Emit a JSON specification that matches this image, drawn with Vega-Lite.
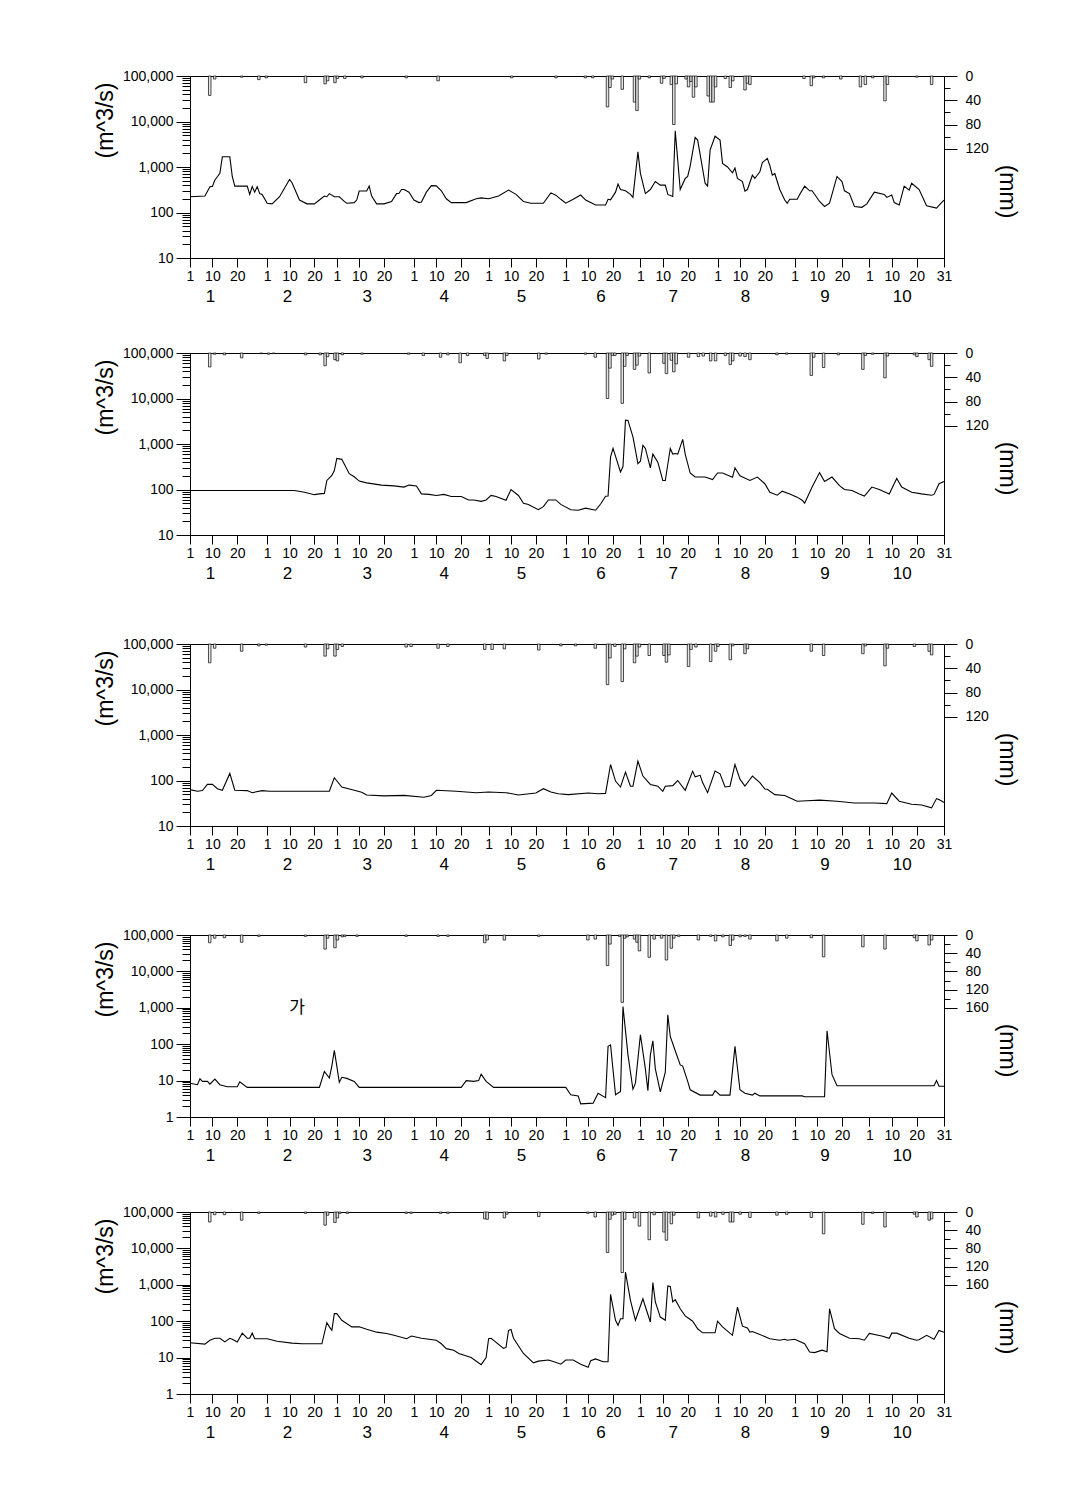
{
"$schema": "https://vega.github.io/schema/vega-lite/v6.json",
"padding": {"left": 93, "top": 68, "right": 5, "bottom": 5},
"spacing": 54,
"config": {
 "view": {"stroke": "#000", "strokeWidth": 1},
 "concat": {"spacing": 54},
 "axis": {"labelFont": "Liberation Sans", "titleFont": "Liberation Sans", "labelColor": "#000", "titleColor": "#000", "domainColor": "#000", "tickColor": "#000", "grid": false, "titleFontWeight": "normal", "labelFontSize": 14, "titleFontSize": 23, "labelOverlap": false, "labelBound": false, "labelFlush": false}
},
"datasets": {
 "months": [{"m":1,"p":9},{"m":2,"p":40},{"m":3,"p":72},{"m":4,"p":103},{"m":5,"p":134},{"m":6,"p":166},{"m":7,"p":195},{"m":8,"p":224},{"m":9,"p":256},{"m":10,"p":287}],
 "q1": [{"d":1,"q":222},{"d":7,"q":230},{"d":9,"q":368},{"d":10,"q":375},{"d":11,"q":517},{"d":12,"q":611},{"d":13,"q":724},{"d":14,"q":1675},{"d":17,"q":1675},{"d":18,"q":611},{"d":19,"q":380},{"d":24,"q":380},{"d":25,"q":250},{"d":26,"q":370},{"d":27,"q":280},{"d":28,"q":370},{"d":29,"q":260},{"d":30,"q":250},{"d":32,"q":160},{"d":34,"q":155},{"d":37,"q":222},{"d":41,"q":534},{"d":42,"q":450},{"d":45,"q":188},{"d":48,"q":155},{"d":51,"q":155},{"d":53,"q":188},{"d":55,"q":230},{"d":56,"q":222},{"d":57,"q":260},{"d":59,"q":222},{"d":61,"q":222},{"d":63,"q":175},{"d":64,"q":160},{"d":67,"q":165},{"d":68,"q":188},{"d":69,"q":296},{"d":72,"q":296},{"d":73,"q":380},{"d":74,"q":230},{"d":76,"q":155},{"d":79,"q":155},{"d":82,"q":175},{"d":84,"q":260},{"d":85,"q":265},{"d":86,"q":320},{"d":87,"q":320},{"d":89,"q":280},{"d":91,"q":188},{"d":93,"q":165},{"d":94,"q":170},{"d":96,"q":280},{"d":98,"q":390},{"d":100,"q":385},{"d":102,"q":300},{"d":104,"q":200},{"d":106,"q":165},{"d":112,"q":165},{"d":116,"q":200},{"d":118,"q":210},{"d":121,"q":200},{"d":125,"q":230},{"d":129,"q":310},{"d":132,"q":250},{"d":135,"q":175},{"d":138,"q":160},{"d":143,"q":160},{"d":146,"q":270},{"d":148,"q":240},{"d":150,"q":195},{"d":152,"q":160},{"d":155,"q":195},{"d":158,"q":242},{"d":160,"q":188},{"d":164,"q":146},{"d":168,"q":146},{"d":169,"q":195},{"d":170,"q":190},{"d":172,"q":280},{"d":173,"q":422},{"d":174,"q":320},{"d":176,"q":300},{"d":178,"q":250},{"d":179,"q":215},{"d":181,"q":2150},{"d":182,"q":724},{"d":184,"q":260},{"d":186,"q":320},{"d":188,"q":480},{"d":190,"q":400},{"d":192,"q":400},{"d":193,"q":250},{"d":195,"q":225},{"d":196,"q":6220},{"d":198,"q":320},{"d":200,"q":560},{"d":201,"q":620},{"d":202,"q":1050},{"d":204,"q":4450},{"d":205,"q":3900},{"d":208,"q":440},{"d":209,"q":380},{"d":210,"q":2350},{"d":212,"q":4750},{"d":214,"q":3900},{"d":215,"q":1200},{"d":217,"q":1000},{"d":219,"q":746},{"d":220,"q":950},{"d":221,"q":560},{"d":223,"q":480},{"d":224,"q":296},{"d":225,"q":320},{"d":227,"q":660},{"d":228,"q":560},{"d":230,"q":785},{"d":231,"q":1250},{"d":233,"q":1550},{"d":234,"q":1080},{"d":235,"q":660},{"d":236,"q":720},{"d":238,"q":320},{"d":240,"q":188},{"d":241,"q":160},{"d":242,"q":195},{"d":245,"q":195},{"d":246,"q":250},{"d":248,"q":380},{"d":250,"q":300},{"d":251,"q":300},{"d":254,"q":175},{"d":256,"q":136},{"d":258,"q":160},{"d":261,"q":620},{"d":263,"q":480},{"d":264,"q":300},{"d":266,"q":260},{"d":268,"q":136},{"d":271,"q":130},{"d":273,"q":155},{"d":276,"q":280},{"d":280,"q":250},{"d":281,"q":215},{"d":283,"q":242},{"d":284,"q":165},{"d":286,"q":146},{"d":288,"q":380},{"d":290,"q":310},{"d":291,"q":440},{"d":294,"q":320},{"d":297,"q":140},{"d":301,"q":125},{"d":303,"q":165},{"d":304,"q":188}],
 "r1": [{"d":7,"r":32},{"d":9,"r":5},{"d":20,"r":2},{"d":27,"r":6},{"d":30,"r":3},{"d":46,"r":11},{"d":54,"r":13},{"d":55,"r":8},{"d":58,"r":11},{"d":59,"r":4},{"d":62,"r":4},{"d":69,"r":3},{"d":87,"r":3},{"d":100,"r":8},{"d":130,"r":3},{"d":148,"r":3},{"d":160,"r":3},{"d":163,"r":3},{"d":169,"r":51},{"d":170,"r":19},{"d":171,"r":5},{"d":175,"r":22},{"d":180,"r":43},{"d":181,"r":57},{"d":182,"r":5},{"d":186,"r":3},{"d":191,"r":12},{"d":192,"r":4},{"d":195,"r":14},{"d":196,"r":80},{"d":197,"r":13},{"d":201,"r":5},{"d":202,"r":18},{"d":203,"r":9},{"d":204,"r":35},{"d":205,"r":18},{"d":210,"r":33},{"d":211,"r":43},{"d":212,"r":43},{"d":213,"r":18},{"d":217,"r":4},{"d":219,"r":19},{"d":220,"r":8},{"d":225,"r":23},{"d":226,"r":12},{"d":227,"r":14},{"d":249,"r":4},{"d":252,"r":16},{"d":253,"r":3},{"d":257,"r":3},{"d":264,"r":5},{"d":272,"r":18},{"d":274,"r":14},{"d":277,"r":3},{"d":282,"r":41},{"d":283,"r":14},{"d":295,"r":2},{"d":301,"r":14}],
 "q2": [{"d":1,"q":95},{"d":43,"q":95},{"d":47,"q":87},{"d":51,"q":77},{"d":53,"q":80},{"d":55,"q":82},{"d":56,"q":158},{"d":58,"q":203},{"d":59,"q":260},{"d":60,"q":480},{"d":62,"q":460},{"d":65,"q":223},{"d":67,"q":190},{"d":69,"q":153},{"d":72,"q":140},{"d":78,"q":125},{"d":83,"q":120},{"d":87,"q":113},{"d":89,"q":125},{"d":92,"q":120},{"d":94,"q":80},{"d":97,"q":78},{"d":100,"q":74},{"d":103,"q":78},{"d":106,"q":70},{"d":110,"q":70},{"d":113,"q":59},{"d":115,"q":59},{"d":118,"q":55},{"d":120,"q":59},{"d":122,"q":74},{"d":124,"q":70},{"d":128,"q":58},{"d":130,"q":100},{"d":133,"q":74},{"d":135,"q":50},{"d":137,"q":47},{"d":141,"q":36},{"d":143,"q":42},{"d":145,"q":59},{"d":148,"q":59},{"d":150,"q":47},{"d":154,"q":36},{"d":157,"q":35},{"d":160,"q":39},{"d":164,"q":35},{"d":166,"q":48},{"d":168,"q":71},{"d":169,"q":72},{"d":170,"q":520},{"d":171,"q":800},{"d":174,"q":242},{"d":175,"q":320},{"d":176,"q":3350},{"d":177,"q":3300},{"d":179,"q":1435},{"d":181,"q":370},{"d":182,"q":420},{"d":183,"q":935},{"d":184,"q":800},{"d":186,"q":300},{"d":187,"q":600},{"d":189,"q":400},{"d":191,"q":158},{"d":192,"q":158},{"d":194,"q":800},{"d":195,"q":600},{"d":196,"q":620},{"d":197,"q":600},{"d":199,"q":1260},{"d":200,"q":600},{"d":202,"q":230},{"d":204,"q":188},{"d":208,"q":188},{"d":211,"q":165},{"d":213,"q":230},{"d":215,"q":230},{"d":219,"q":185},{"d":220,"q":300},{"d":222,"q":200},{"d":226,"q":158},{"d":229,"q":188},{"d":232,"q":134},{"d":234,"q":87},{"d":237,"q":75},{"d":239,"q":92},{"d":242,"q":80},{"d":245,"q":68},{"d":247,"q":58},{"d":248,"q":50},{"d":251,"q":113},{"d":254,"q":235},{"d":256,"q":150},{"d":259,"q":188},{"d":262,"q":122},{"d":264,"q":100},{"d":267,"q":95},{"d":270,"q":80},{"d":272,"q":72},{"d":275,"q":113},{"d":278,"q":100},{"d":282,"q":80},{"d":285,"q":175},{"d":287,"q":113},{"d":291,"q":87},{"d":295,"q":80},{"d":299,"q":75},{"d":300,"q":78},{"d":302,"q":134},{"d":304,"q":150}],
 "r2": [{"d":7,"r":23},{"d":9,"r":2},{"d":13,"r":3},{"d":20,"r":8},{"d":28,"r":1},{"d":31,"r":2},{"d":33,"r":1},{"d":46,"r":3},{"d":52,"r":3},{"d":54,"r":21},{"d":55,"r":6},{"d":58,"r":11},{"d":59,"r":13},{"d":61,"r":3},{"d":69,"r":2},{"d":88,"r":2},{"d":94,"r":4},{"d":101,"r":7},{"d":104,"r":3},{"d":109,"r":16},{"d":112,"r":4},{"d":119,"r":4},{"d":120,"r":9},{"d":127,"r":13},{"d":128,"r":4},{"d":141,"r":10},{"d":144,"r":2},{"d":160,"r":2},{"d":164,"r":7},{"d":169,"r":75},{"d":170,"r":25},{"d":171,"r":4},{"d":172,"r":4},{"d":175,"r":83},{"d":176,"r":22},{"d":177,"r":4},{"d":180,"r":27},{"d":181,"r":20},{"d":182,"r":5},{"d":186,"r":33},{"d":192,"r":17},{"d":193,"r":34},{"d":195,"r":12},{"d":196,"r":31},{"d":197,"r":18},{"d":202,"r":7},{"d":206,"r":6},{"d":208,"r":5},{"d":211,"r":13},{"d":213,"r":13},{"d":217,"r":4},{"d":219,"r":19},{"d":220,"r":13},{"d":223,"r":5},{"d":225,"r":6},{"d":227,"r":11},{"d":238,"r":3},{"d":242,"r":2},{"d":252,"r":37},{"d":253,"r":7},{"d":257,"r":24},{"d":263,"r":3},{"d":273,"r":27},{"d":274,"r":4},{"d":277,"r":2},{"d":282,"r":41},{"d":283,"r":5},{"d":294,"r":3},{"d":295,"r":6},{"d":300,"r":11},{"d":301,"r":22}],
 "q3": [{"d":1,"q":63},{"d":4,"q":58},{"d":6,"q":60},{"d":8,"q":82},{"d":10,"q":82},{"d":12,"q":66},{"d":14,"q":61},{"d":17,"q":143},{"d":19,"q":61},{"d":24,"q":60},{"d":26,"q":54},{"d":30,"q":60},{"d":33,"q":58},{"d":57,"q":58},{"d":59,"q":115},{"d":62,"q":72},{"d":67,"q":61},{"d":70,"q":55},{"d":72,"q":48},{"d":79,"q":46},{"d":87,"q":47},{"d":95,"q":43},{"d":98,"q":47},{"d":100,"q":61},{"d":108,"q":58},{"d":116,"q":54},{"d":121,"q":56},{"d":128,"q":54},{"d":133,"q":48},{"d":140,"q":53},{"d":143,"q":66},{"d":146,"q":56},{"d":149,"q":51},{"d":153,"q":49},{"d":161,"q":53},{"d":165,"q":51},{"d":168,"q":52},{"d":170,"q":225},{"d":172,"q":97},{"d":174,"q":72},{"d":176,"q":153},{"d":178,"q":75},{"d":179,"q":75},{"d":181,"q":267},{"d":183,"q":125},{"d":186,"q":82},{"d":189,"q":75},{"d":191,"q":58},{"d":192,"q":75},{"d":195,"q":77},{"d":197,"q":100},{"d":200,"q":61},{"d":203,"q":161},{"d":204,"q":120},{"d":206,"q":130},{"d":207,"q":90},{"d":209,"q":54},{"d":212,"q":161},{"d":214,"q":140},{"d":216,"q":72},{"d":218,"q":75},{"d":220,"q":225},{"d":222,"q":107},{"d":224,"q":75},{"d":226,"q":105},{"d":227,"q":125},{"d":230,"q":90},{"d":232,"q":65},{"d":233,"q":64},{"d":236,"q":49},{"d":240,"q":47},{"d":245,"q":35},{"d":249,"q":36},{"d":254,"q":37},{"d":261,"q":35},{"d":268,"q":32},{"d":276,"q":32},{"d":281,"q":31},{"d":283,"q":53},{"d":286,"q":35},{"d":291,"q":30},{"d":295,"q":29},{"d":299,"q":25},{"d":301,"q":40},{"d":302,"q":38},{"d":304,"q":33}],
 "r3": [{"d":7,"r":31},{"d":9,"r":7},{"d":20,"r":12},{"d":27,"r":3},{"d":30,"r":2},{"d":46,"r":5},{"d":54,"r":20},{"d":55,"r":8},{"d":58,"r":20},{"d":59,"r":9},{"d":61,"r":4},{"d":87,"r":5},{"d":89,"r":4},{"d":100,"r":7},{"d":104,"r":4},{"d":119,"r":9},{"d":122,"r":9},{"d":127,"r":8},{"d":141,"r":10},{"d":150,"r":3},{"d":156,"r":3},{"d":164,"r":7},{"d":169,"r":67},{"d":170,"r":23},{"d":172,"r":4},{"d":175,"r":62},{"d":176,"r":8},{"d":180,"r":31},{"d":181,"r":20},{"d":182,"r":5},{"d":186,"r":19},{"d":192,"r":19},{"d":193,"r":30},{"d":194,"r":18},{"d":202,"r":37},{"d":203,"r":9},{"d":205,"r":5},{"d":211,"r":29},{"d":213,"r":12},{"d":214,"r":4},{"d":219,"r":26},{"d":220,"r":3},{"d":225,"r":16},{"d":226,"r":8},{"d":252,"r":12},{"d":257,"r":19},{"d":273,"r":16},{"d":274,"r":3},{"d":282,"r":36},{"d":283,"r":7},{"d":294,"r":4},{"d":300,"r":12},{"d":301,"r":18}],
 "q4": [{"d":1,"q":8.5},{"d":4,"q":7.7},{"d":5,"q":11.2},{"d":6,"q":9.5},{"d":8,"q":9.5},{"d":9,"q":8},{"d":11,"q":11},{"d":13,"q":7.7},{"d":16,"q":6.8},{"d":20,"q":6.8},{"d":21,"q":9.2},{"d":24,"q":6.5},{"d":53,"q":6.5},{"d":55,"q":17.8},{"d":57,"q":11.8},{"d":58,"q":25},{"d":59,"q":68},{"d":60,"q":25},{"d":61,"q":9},{"d":62,"q":12.3},{"d":64,"q":11.5},{"d":67,"q":9.5},{"d":69,"q":6.5},{"d":110,"q":6.5},{"d":112,"q":10},{"d":115,"q":9.5},{"d":117,"q":10},{"d":118,"q":15},{"d":120,"q":9.5},{"d":123,"q":6.5},{"d":152,"q":6.5},{"d":154,"q":4.1},{"d":157,"q":3.8},{"d":158,"q":2.3},{"d":163,"q":2.4},{"d":165,"q":4.5},{"d":168,"q":3.4},{"d":169,"q":87},{"d":170,"q":96},{"d":172,"q":4.1},{"d":174,"q":5},{"d":175,"q":1080},{"d":177,"q":51},{"d":179,"q":5.8},{"d":180,"q":8.5},{"d":182,"q":182},{"d":184,"q":21},{"d":185,"q":5.3},{"d":186,"q":51},{"d":187,"q":124},{"d":188,"q":21},{"d":190,"q":4.9},{"d":192,"q":17},{"d":193,"q":640},{"d":194,"q":163},{"d":196,"q":66},{"d":198,"q":27},{"d":199,"q":25},{"d":201,"q":9.5},{"d":202,"q":5.6},{"d":206,"q":4},{"d":211,"q":4},{"d":212,"q":5.3},{"d":214,"q":4},{"d":218,"q":4},{"d":220,"q":87},{"d":222,"q":5.6},{"d":224,"q":4.5},{"d":227,"q":4},{"d":228,"q":4.5},{"d":230,"q":3.8},{"d":247,"q":3.8},{"d":248,"q":3.6},{"d":256,"q":3.6},{"d":257,"q":235},{"d":259,"q":14.5},{"d":261,"q":7.2},{"d":300,"q":7.2},{"d":301,"q":10},{"d":302,"q":7},{"d":304,"q":7}],
 "r4": [{"d":7,"r":17},{"d":9,"r":7},{"d":13,"r":6},{"d":20,"r":16},{"d":27,"r":3},{"d":46,"r":3},{"d":54,"r":31},{"d":55,"r":7},{"d":58,"r":28},{"d":59,"r":11},{"d":61,"r":4},{"d":62,"r":3},{"d":67,"r":3},{"d":87,"r":3},{"d":100,"r":3},{"d":104,"r":3},{"d":119,"r":17},{"d":120,"r":11},{"d":127,"r":11},{"d":141,"r":3},{"d":161,"r":11},{"d":164,"r":9},{"d":169,"r":67},{"d":170,"r":20},{"d":174,"r":3},{"d":175,"r":148},{"d":176,"r":7},{"d":177,"r":4},{"d":180,"r":9},{"d":181,"r":16},{"d":182,"r":35},{"d":186,"r":49},{"d":188,"r":9},{"d":191,"r":7},{"d":193,"r":55},{"d":195,"r":29},{"d":196,"r":7},{"d":198,"r":3},{"d":206,"r":11},{"d":211,"r":3},{"d":213,"r":13},{"d":216,"r":4},{"d":219,"r":23},{"d":220,"r":11},{"d":223,"r":4},{"d":225,"r":3},{"d":227,"r":9},{"d":238,"r":13},{"d":242,"r":7},{"d":252,"r":6},{"d":257,"r":48},{"d":273,"r":26},{"d":282,"r":31},{"d":294,"r":6},{"d":295,"r":13},{"d":300,"r":22},{"d":301,"r":11}],
 "q5": [{"d":1,"q":25.7},{"d":7,"q":23.5},{"d":9,"q":30},{"d":11,"q":34},{"d":13,"q":34},{"d":15,"q":27},{"d":17,"q":34},{"d":18,"q":32},{"d":20,"q":27},{"d":22,"q":47},{"d":24,"q":34},{"d":25,"q":34},{"d":26,"q":47},{"d":27,"q":33},{"d":32,"q":33},{"d":36,"q":28},{"d":42,"q":25},{"d":46,"q":24},{"d":54,"q":24},{"d":56,"q":91},{"d":57,"q":70},{"d":58,"q":56},{"d":59,"q":161},{"d":60,"q":161},{"d":62,"q":106},{"d":66,"q":70},{"d":69,"q":70},{"d":72,"q":60},{"d":76,"q":50},{"d":80,"q":46},{"d":83,"q":41},{"d":88,"q":33},{"d":90,"q":39},{"d":94,"q":34},{"d":100,"q":30},{"d":102,"q":24},{"d":104,"q":17.6},{"d":107,"q":16},{"d":109,"q":13},{"d":114,"q":10},{"d":118,"q":6.4},{"d":120,"q":10},{"d":121,"q":33},{"d":122,"q":34},{"d":127,"q":18},{"d":128,"q":19},{"d":129,"q":56},{"d":130,"q":59},{"d":131,"q":34},{"d":135,"q":13},{"d":139,"q":7.2},{"d":141,"q":8},{"d":145,"q":8.6},{"d":147,"q":7.8},{"d":150,"q":6.6},{"d":152,"q":8.6},{"d":155,"q":8.6},{"d":158,"q":6.6},{"d":161,"q":5.4},{"d":162,"q":8.2},{"d":164,"q":9.2},{"d":167,"q":7.7},{"d":169,"q":7.7},{"d":170,"q":547},{"d":172,"q":106},{"d":173,"q":77},{"d":174,"q":117},{"d":175,"q":117},{"d":176,"q":2240},{"d":178,"q":375},{"d":180,"q":106},{"d":183,"q":415},{"d":184,"q":250},{"d":186,"q":95},{"d":187,"q":1150},{"d":188,"q":340},{"d":190,"q":130},{"d":192,"q":106},{"d":193,"q":930},{"d":194,"q":900},{"d":195,"q":340},{"d":196,"q":390},{"d":198,"q":220},{"d":200,"q":140},{"d":203,"q":100},{"d":205,"q":62},{"d":207,"q":48},{"d":212,"q":48},{"d":213,"q":100},{"d":215,"q":70},{"d":219,"q":41},{"d":221,"q":245},{"d":223,"q":73},{"d":225,"q":65},{"d":226,"q":50},{"d":227,"q":52},{"d":229,"q":46},{"d":234,"q":33},{"d":238,"q":30},{"d":240,"q":32},{"d":241,"q":30},{"d":244,"q":32},{"d":248,"q":24},{"d":250,"q":14.3},{"d":252,"q":13.7},{"d":255,"q":16},{"d":257,"q":14.5},{"d":258,"q":220},{"d":260,"q":62},{"d":262,"q":46},{"d":266,"q":34},{"d":270,"q":33},{"d":272,"q":30},{"d":274,"q":46},{"d":279,"q":39},{"d":282,"q":34},{"d":283,"q":47},{"d":285,"q":47},{"d":290,"q":34},{"d":293,"q":30},{"d":294,"q":31},{"d":297,"q":41},{"d":300,"q":32},{"d":302,"q":56},{"d":304,"q":50}],
 "r5": [{"d":7,"r":22},{"d":9,"r":6},{"d":13,"r":6},{"d":20,"r":18},{"d":27,"r":3},{"d":46,"r":3},{"d":54,"r":29},{"d":55,"r":7},{"d":58,"r":23},{"d":59,"r":13},{"d":60,"r":3},{"d":63,"r":3},{"d":87,"r":3},{"d":89,"r":3},{"d":101,"r":3},{"d":104,"r":3},{"d":119,"r":15},{"d":120,"r":16},{"d":127,"r":13},{"d":128,"r":5},{"d":141,"r":10},{"d":161,"r":3},{"d":164,"r":11},{"d":169,"r":89},{"d":170,"r":16},{"d":171,"r":7},{"d":172,"r":5},{"d":175,"r":133},{"d":176,"r":16},{"d":180,"r":13},{"d":182,"r":31},{"d":186,"r":61},{"d":188,"r":6},{"d":192,"r":44},{"d":193,"r":62},{"d":195,"r":26},{"d":196,"r":7},{"d":206,"r":13},{"d":211,"r":9},{"d":213,"r":11},{"d":216,"r":5},{"d":219,"r":22},{"d":220,"r":22},{"d":223,"r":5},{"d":227,"r":12},{"d":238,"r":7},{"d":242,"r":5},{"d":252,"r":12},{"d":257,"r":48},{"d":273,"r":27},{"d":277,"r":3},{"d":282,"r":33},{"d":294,"r":5},{"d":295,"r":11},{"d":300,"r":18},{"d":301,"r":15}],
 "label4": [{"d":44,"q":980,"t":"가"}]
},
"vconcat": [
 {"spacing": 40, "vconcat": [
 {"width": 754, "height": 182, "resolve": {"scale": {"x": "independent", "y": "independent"}},
  "layer": [
   {"data": {"name": "r1"}, "mark": {"type": "bar", "width": 2.5, "fill": "#e4e4e4", "stroke": "#000", "strokeWidth": 0.7},
    "encoding": {"x": {"field": "d", "type": "quantitative", "scale": {"domain": [1, 304], "nice": false, "zero": false}, "axis": null},
     "y": {"field": "r", "type": "quantitative", "scale": {"domain": [0, 300], "reverse": true, "nice": false}, "axis": {"orient": "right", "title": "(mm)", "values": [0, 20, 40, 60, 80, 100, 120], "labelExpr": "datum.value % 40 == 0 ? datum.label : ''", "tickSize": {"condition": {"test": "datum.value % 40 == 0", "value": 13}, "value": 6}, "labelPadding": 8, "titleX": 50, "titleY": 115, "titleAngle": 90, "titleBaseline": "bottom"}}}},
   {"data": {"name": "q1"}, "mark": {"type": "line", "color": "#000", "strokeWidth": 1.1},
    "encoding": {"x": {"field": "d", "type": "quantitative", "scale": {"domain": [1, 304], "nice": false, "zero": false}, "axis": {"orient": "bottom", "title": null, "values": [1,10,20,32,41,51,60,69,79,91,100,110,121,130,140,152,161,171,182,191,201,213,222,232,244,253,263,274,283,293,304], "labelExpr": "indexof([1,32,60,91,121,152,182,213,244,274], datum.value) >= 0 ? '1' : indexof([10,41,69,100,130,161,191,222,253,283], datum.value) >= 0 ? '10' : datum.value == 304 ? '31' : '20'", "tickSize": 9, "labelPadding": 2}},
     "y": {"field": "q", "type": "quantitative", "scale": {"type": "log", "domain": [10, 100000], "nice": false}, "axis": {"orient": "left", "title": "(m^3/s)", "values": [10,20,30,40,50,60,70,80,90,100,200,300,400,500,600,700,800,900,1000,2000,3000,4000,5000,6000,7000,8000,9000,10000,20000,30000,40000,50000,60000,70000,80000,90000,100000], "labelExpr": "indexof([1,10,100,1000,10000,100000], datum.value) >= 0 ? format(datum.value, ',') : ''", "tickSize": {"condition": {"test": "indexof([1,10,100,1000,10000,100000], datum.value) >= 0", "value": 14}, "value": 8}, "labelPadding": 3, "titleX": -73, "titleY": 44, "titleAngle": -90, "titleBaseline": "bottom"}}}},
   {"data": {"name": "months"}, "mark": {"type": "rule", "opacity": 0},
    "encoding": {"x": {"field": "p", "type": "quantitative", "scale": {"domain": [1, 304], "nice": false, "zero": false}, "axis": {"orient": "bottom", "title": null, "values": [9,40,72,103,134,166,195,224,256,287], "labelExpr": "indexof([9,40,72,103,134,166,195,224,256,287], datum.value) + 1", "ticks": false, "domain": false, "tickSize": 0, "labelPadding": 30, "labelFontSize": 17}}}}
  ]},
 {"width": 754, "height": 182, "resolve": {"scale": {"x": "independent", "y": "independent"}},
  "layer": [
   {"data": {"name": "r2"}, "mark": {"type": "bar", "width": 2.5, "fill": "#e4e4e4", "stroke": "#000", "strokeWidth": 0.7},
    "encoding": {"x": {"field": "d", "type": "quantitative", "scale": {"domain": [1, 304], "nice": false, "zero": false}, "axis": null},
     "y": {"field": "r", "type": "quantitative", "scale": {"domain": [0, 300], "reverse": true, "nice": false}, "axis": {"orient": "right", "title": "(mm)", "values": [0, 20, 40, 60, 80, 100, 120], "labelExpr": "datum.value % 40 == 0 ? datum.label : ''", "tickSize": {"condition": {"test": "datum.value % 40 == 0", "value": 13}, "value": 6}, "labelPadding": 8, "titleX": 50, "titleY": 115, "titleAngle": 90, "titleBaseline": "bottom"}}}},
   {"data": {"name": "q2"}, "mark": {"type": "line", "color": "#000", "strokeWidth": 1.1},
    "encoding": {"x": {"field": "d", "type": "quantitative", "scale": {"domain": [1, 304], "nice": false, "zero": false}, "axis": {"orient": "bottom", "title": null, "values": [1,10,20,32,41,51,60,69,79,91,100,110,121,130,140,152,161,171,182,191,201,213,222,232,244,253,263,274,283,293,304], "labelExpr": "indexof([1,32,60,91,121,152,182,213,244,274], datum.value) >= 0 ? '1' : indexof([10,41,69,100,130,161,191,222,253,283], datum.value) >= 0 ? '10' : datum.value == 304 ? '31' : '20'", "tickSize": 9, "labelPadding": 2}},
     "y": {"field": "q", "type": "quantitative", "scale": {"type": "log", "domain": [10, 100000], "nice": false}, "axis": {"orient": "left", "title": "(m^3/s)", "values": [10,20,30,40,50,60,70,80,90,100,200,300,400,500,600,700,800,900,1000,2000,3000,4000,5000,6000,7000,8000,9000,10000,20000,30000,40000,50000,60000,70000,80000,90000,100000], "labelExpr": "indexof([1,10,100,1000,10000,100000], datum.value) >= 0 ? format(datum.value, ',') : ''", "tickSize": {"condition": {"test": "indexof([1,10,100,1000,10000,100000], datum.value) >= 0", "value": 14}, "value": 8}, "labelPadding": 3, "titleX": -73, "titleY": 44, "titleAngle": -90, "titleBaseline": "bottom"}}}},
   {"data": {"name": "months"}, "mark": {"type": "rule", "opacity": 0},
    "encoding": {"x": {"field": "p", "type": "quantitative", "scale": {"domain": [1, 304], "nice": false, "zero": false}, "axis": {"orient": "bottom", "title": null, "values": [9,40,72,103,134,166,195,224,256,287], "labelExpr": "indexof([9,40,72,103,134,166,195,224,256,287], datum.value) + 1", "ticks": false, "domain": false, "tickSize": 0, "labelPadding": 30, "labelFontSize": 17}}}}
  ]}
 ]},
 {"width": 754, "height": 182, "resolve": {"scale": {"x": "independent", "y": "independent"}},
  "layer": [
   {"data": {"name": "r3"}, "mark": {"type": "bar", "width": 2.5, "fill": "#e4e4e4", "stroke": "#000", "strokeWidth": 0.7},
    "encoding": {"x": {"field": "d", "type": "quantitative", "scale": {"domain": [1, 304], "nice": false, "zero": false}, "axis": null},
     "y": {"field": "r", "type": "quantitative", "scale": {"domain": [0, 300], "reverse": true, "nice": false}, "axis": {"orient": "right", "title": "(mm)", "values": [0, 20, 40, 60, 80, 100, 120], "labelExpr": "datum.value % 40 == 0 ? datum.label : ''", "tickSize": {"condition": {"test": "datum.value % 40 == 0", "value": 13}, "value": 6}, "labelPadding": 8, "titleX": 50, "titleY": 115, "titleAngle": 90, "titleBaseline": "bottom"}}}},
   {"data": {"name": "q3"}, "mark": {"type": "line", "color": "#000", "strokeWidth": 1.1},
    "encoding": {"x": {"field": "d", "type": "quantitative", "scale": {"domain": [1, 304], "nice": false, "zero": false}, "axis": {"orient": "bottom", "title": null, "values": [1,10,20,32,41,51,60,69,79,91,100,110,121,130,140,152,161,171,182,191,201,213,222,232,244,253,263,274,283,293,304], "labelExpr": "indexof([1,32,60,91,121,152,182,213,244,274], datum.value) >= 0 ? '1' : indexof([10,41,69,100,130,161,191,222,253,283], datum.value) >= 0 ? '10' : datum.value == 304 ? '31' : '20'", "tickSize": 9, "labelPadding": 2}},
     "y": {"field": "q", "type": "quantitative", "scale": {"type": "log", "domain": [10, 100000], "nice": false}, "axis": {"orient": "left", "title": "(m^3/s)", "values": [10,20,30,40,50,60,70,80,90,100,200,300,400,500,600,700,800,900,1000,2000,3000,4000,5000,6000,7000,8000,9000,10000,20000,30000,40000,50000,60000,70000,80000,90000,100000], "labelExpr": "indexof([1,10,100,1000,10000,100000], datum.value) >= 0 ? format(datum.value, ',') : ''", "tickSize": {"condition": {"test": "indexof([1,10,100,1000,10000,100000], datum.value) >= 0", "value": 14}, "value": 8}, "labelPadding": 3, "titleX": -73, "titleY": 44, "titleAngle": -90, "titleBaseline": "bottom"}}}},
   {"data": {"name": "months"}, "mark": {"type": "rule", "opacity": 0},
    "encoding": {"x": {"field": "p", "type": "quantitative", "scale": {"domain": [1, 304], "nice": false, "zero": false}, "axis": {"orient": "bottom", "title": null, "values": [9,40,72,103,134,166,195,224,256,287], "labelExpr": "indexof([9,40,72,103,134,166,195,224,256,287], datum.value) + 1", "ticks": false, "domain": false, "tickSize": 0, "labelPadding": 30, "labelFontSize": 17}}}}
  ]},
 {"spacing": 40, "vconcat": [
 {"width": 754, "height": 182, "resolve": {"scale": {"x": "independent", "y": "independent"}},
  "layer": [
   {"data": {"name": "r4"}, "mark": {"type": "bar", "width": 2.5, "fill": "#e4e4e4", "stroke": "#000", "strokeWidth": 0.7},
    "encoding": {"x": {"field": "d", "type": "quantitative", "scale": {"domain": [1, 304], "nice": false, "zero": false}, "axis": null},
     "y": {"field": "r", "type": "quantitative", "scale": {"domain": [0, 400], "reverse": true, "nice": false}, "axis": {"orient": "right", "title": "(mm)", "values": [0, 20, 40, 60, 80, 100, 120, 140, 160], "labelExpr": "datum.value % 40 == 0 ? datum.label : ''", "tickSize": {"condition": {"test": "datum.value % 40 == 0", "value": 13}, "value": 6}, "labelPadding": 8, "titleX": 50, "titleY": 115, "titleAngle": 90, "titleBaseline": "bottom"}}}},
   {"data": {"name": "q4"}, "mark": {"type": "line", "color": "#000", "strokeWidth": 1.1},
    "encoding": {"x": {"field": "d", "type": "quantitative", "scale": {"domain": [1, 304], "nice": false, "zero": false}, "axis": {"orient": "bottom", "title": null, "values": [1,10,20,32,41,51,60,69,79,91,100,110,121,130,140,152,161,171,182,191,201,213,222,232,244,253,263,274,283,293,304], "labelExpr": "indexof([1,32,60,91,121,152,182,213,244,274], datum.value) >= 0 ? '1' : indexof([10,41,69,100,130,161,191,222,253,283], datum.value) >= 0 ? '10' : datum.value == 304 ? '31' : '20'", "tickSize": 9, "labelPadding": 2}},
     "y": {"field": "q", "type": "quantitative", "scale": {"type": "log", "domain": [1, 100000], "nice": false}, "axis": {"orient": "left", "title": "(m^3/s)", "values": [1,2,3,4,5,6,7,8,9,10,20,30,40,50,60,70,80,90,100,200,300,400,500,600,700,800,900,1000,2000,3000,4000,5000,6000,7000,8000,9000,10000,20000,30000,40000,50000,60000,70000,80000,90000,100000], "labelExpr": "indexof([1,10,100,1000,10000,100000], datum.value) >= 0 ? format(datum.value, ',') : ''", "tickSize": {"condition": {"test": "indexof([1,10,100,1000,10000,100000], datum.value) >= 0", "value": 14}, "value": 8}, "labelPadding": 3, "titleX": -73, "titleY": 44, "titleAngle": -90, "titleBaseline": "bottom"}}}},
   {"data": {"name": "label4"}, "mark": {"type": "text", "font": "Noto Sans CJK KR", "fontSize": 17, "color": "#000", "align": "center", "baseline": "middle"},
    "encoding": {"x": {"field": "d", "type": "quantitative", "scale": {"domain": [1, 304], "nice": false, "zero": false}, "axis": null},
     "y": {"field": "q", "type": "quantitative", "scale": {"type": "log", "domain": [1, 100000], "nice": false}, "axis": null},
     "text": {"field": "t"}}},
   {"data": {"name": "months"}, "mark": {"type": "rule", "opacity": 0},
    "encoding": {"x": {"field": "p", "type": "quantitative", "scale": {"domain": [1, 304], "nice": false, "zero": false}, "axis": {"orient": "bottom", "title": null, "values": [9,40,72,103,134,166,195,224,256,287], "labelExpr": "indexof([9,40,72,103,134,166,195,224,256,287], datum.value) + 1", "ticks": false, "domain": false, "tickSize": 0, "labelPadding": 30, "labelFontSize": 17}}}}
  ]},
 {"width": 754, "height": 182, "resolve": {"scale": {"x": "independent", "y": "independent"}},
  "layer": [
   {"data": {"name": "r5"}, "mark": {"type": "bar", "width": 2.5, "fill": "#e4e4e4", "stroke": "#000", "strokeWidth": 0.7},
    "encoding": {"x": {"field": "d", "type": "quantitative", "scale": {"domain": [1, 304], "nice": false, "zero": false}, "axis": null},
     "y": {"field": "r", "type": "quantitative", "scale": {"domain": [0, 400], "reverse": true, "nice": false}, "axis": {"orient": "right", "title": "(mm)", "values": [0, 20, 40, 60, 80, 100, 120, 140, 160], "labelExpr": "datum.value % 40 == 0 ? datum.label : ''", "tickSize": {"condition": {"test": "datum.value % 40 == 0", "value": 13}, "value": 6}, "labelPadding": 8, "titleX": 50, "titleY": 115, "titleAngle": 90, "titleBaseline": "bottom"}}}},
   {"data": {"name": "q5"}, "mark": {"type": "line", "color": "#000", "strokeWidth": 1.1},
    "encoding": {"x": {"field": "d", "type": "quantitative", "scale": {"domain": [1, 304], "nice": false, "zero": false}, "axis": {"orient": "bottom", "title": null, "values": [1,10,20,32,41,51,60,69,79,91,100,110,121,130,140,152,161,171,182,191,201,213,222,232,244,253,263,274,283,293,304], "labelExpr": "indexof([1,32,60,91,121,152,182,213,244,274], datum.value) >= 0 ? '1' : indexof([10,41,69,100,130,161,191,222,253,283], datum.value) >= 0 ? '10' : datum.value == 304 ? '31' : '20'", "tickSize": 9, "labelPadding": 2}},
     "y": {"field": "q", "type": "quantitative", "scale": {"type": "log", "domain": [1, 100000], "nice": false}, "axis": {"orient": "left", "title": "(m^3/s)", "values": [1,2,3,4,5,6,7,8,9,10,20,30,40,50,60,70,80,90,100,200,300,400,500,600,700,800,900,1000,2000,3000,4000,5000,6000,7000,8000,9000,10000,20000,30000,40000,50000,60000,70000,80000,90000,100000], "labelExpr": "indexof([1,10,100,1000,10000,100000], datum.value) >= 0 ? format(datum.value, ',') : ''", "tickSize": {"condition": {"test": "indexof([1,10,100,1000,10000,100000], datum.value) >= 0", "value": 14}, "value": 8}, "labelPadding": 3, "titleX": -73, "titleY": 44, "titleAngle": -90, "titleBaseline": "bottom"}}}},
   {"data": {"name": "months"}, "mark": {"type": "rule", "opacity": 0},
    "encoding": {"x": {"field": "p", "type": "quantitative", "scale": {"domain": [1, 304], "nice": false, "zero": false}, "axis": {"orient": "bottom", "title": null, "values": [9,40,72,103,134,166,195,224,256,287], "labelExpr": "indexof([9,40,72,103,134,166,195,224,256,287], datum.value) + 1", "ticks": false, "domain": false, "tickSize": 0, "labelPadding": 30, "labelFontSize": 17}}}}
  ]}
 ]}
]
}
